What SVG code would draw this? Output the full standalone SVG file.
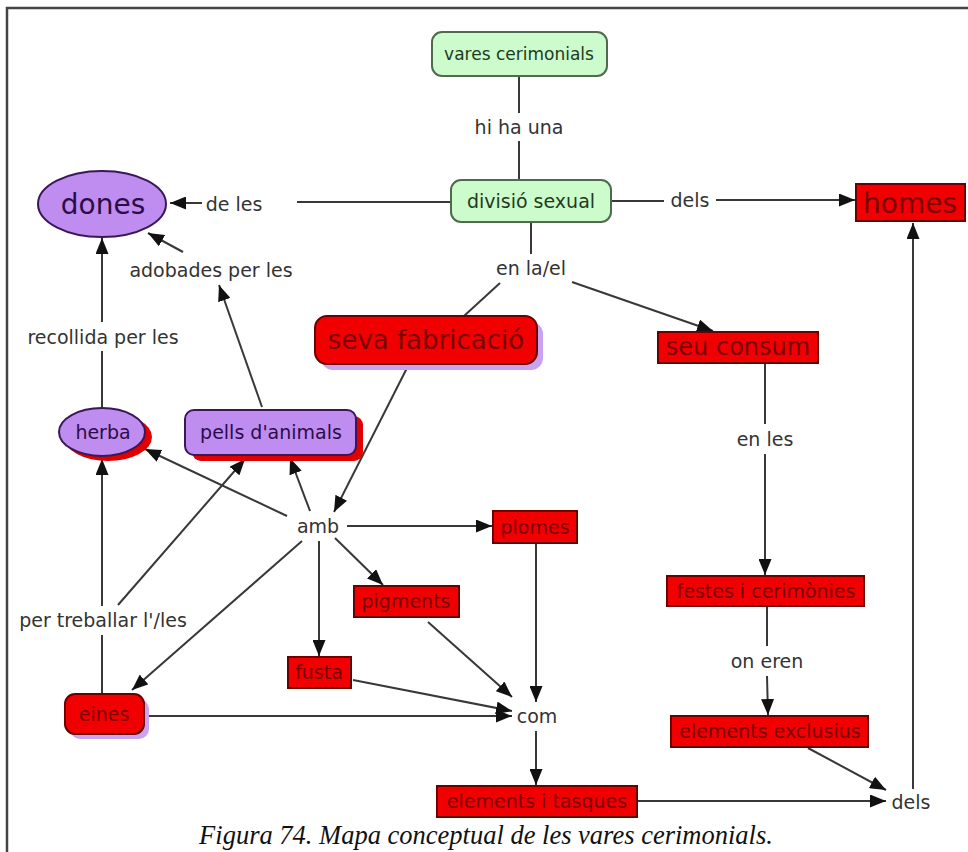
<svg xmlns="http://www.w3.org/2000/svg" width="968" height="852" viewBox="0 0 968 852">
  <style>
    .lbl { font-family: "DejaVu Sans", Verdana, sans-serif; font-size: 19px; fill: #333; text-anchor: middle; dominant-baseline: central; }
    .green rect { fill: #ccfccc; stroke: #4f6a4f; stroke-width: 2; }
    .green text { font-family: "DejaVu Sans", Verdana, sans-serif; font-size: 18px; fill: #1f3a1f; text-anchor: middle; dominant-baseline: central; }
    .purple .shape { fill: #bf8df0; stroke: #3a1858; stroke-width: 2; }
    .purple text { font-family: "DejaVu Sans", Verdana, sans-serif; fill: #2c0c48; text-anchor: middle; dominant-baseline: central; }
    .red .shape { fill: #f00000; stroke: #6a0000; stroke-width: 2; }
    .red text { font-family: "DejaVu Sans", Verdana, sans-serif; fill: #7a0000; text-anchor: middle; dominant-baseline: central; font-size: 19px; }
    .shadow-red { fill: #e00000; }
    .shadow-purple { fill: #c9a2f2; }
    #connectors line { stroke: #383838; stroke-width: 2; fill: none; }
    .cap { font-family: "Liberation Serif", "Times New Roman", serif; font-style: italic; font-size: 26.5px; fill: #111; text-anchor: middle; }
  </style>
  <defs>
    <marker id="arr" viewBox="0 0 16 13" refX="16" refY="6.5" markerWidth="16" markerHeight="13" orient="auto" markerUnits="userSpaceOnUse">
      <path d="M0,0 L16,6.5 L0,13 z" fill="#111"/>
    </marker>
  </defs>

  <rect width="968" height="852" fill="#fff"/>
  <!-- page frame -->
  <path d="M7,852 V8 H968" fill="none" stroke="#444" stroke-width="2.5"/>

  <!-- connectors -->
  <g id="connectors">
    <line x1="519" y1="76" x2="519" y2="113"/>
    <line x1="519" y1="141" x2="519" y2="180"/>
    <line x1="451" y1="202" x2="297" y2="202"/>
    <line x1="202" y1="203" x2="170" y2="203" marker-end="url(#arr)"/>
    <line x1="611" y1="201" x2="664" y2="201"/>
    <line x1="716" y1="200" x2="855" y2="200" marker-end="url(#arr)"/>
    <line x1="531" y1="222" x2="531" y2="254"/>
    <line x1="500" y1="283" x2="464" y2="316"/>
    <line x1="572" y1="282" x2="713" y2="331" marker-end="url(#arr)"/>
    <line x1="408" y1="366" x2="334" y2="512" marker-end="url(#arr)"/>
    <line x1="765" y1="364" x2="765" y2="424"/>
    <line x1="765" y1="454" x2="765" y2="575" marker-end="url(#arr)"/>
    <line x1="767" y1="607" x2="767" y2="646"/>
    <line x1="767" y1="676" x2="768" y2="715" marker-end="url(#arr)"/>
    <line x1="808" y1="748" x2="886" y2="790" marker-end="url(#arr)"/>
    <line x1="638" y1="801" x2="886" y2="801" marker-end="url(#arr)"/>
    <line x1="913" y1="789" x2="913" y2="223" marker-end="url(#arr)"/>
    <line x1="347" y1="526" x2="492" y2="526" marker-end="url(#arr)"/>
    <line x1="536" y1="544" x2="536" y2="702" marker-end="url(#arr)"/>
    <line x1="335" y1="538" x2="383" y2="585" marker-end="url(#arr)"/>
    <line x1="319" y1="541" x2="319" y2="656" marker-end="url(#arr)"/>
    <line x1="302" y1="541" x2="132" y2="690" marker-end="url(#arr)"/>
    <line x1="287" y1="516" x2="145" y2="449" marker-end="url(#arr)"/>
    <line x1="310" y1="511" x2="290" y2="458" marker-end="url(#arr)"/>
    <line x1="428" y1="622" x2="512" y2="697" marker-end="url(#arr)"/>
    <line x1="353" y1="680" x2="512" y2="711" marker-end="url(#arr)"/>
    <line x1="146" y1="716" x2="512" y2="716" marker-end="url(#arr)"/>
    <line x1="536" y1="731" x2="536" y2="785" marker-end="url(#arr)"/>
    <line x1="102" y1="694" x2="102" y2="635"/>
    <line x1="102" y1="606" x2="102" y2="459" marker-end="url(#arr)"/>
    <line x1="118" y1="605" x2="245" y2="459" marker-end="url(#arr)"/>
    <line x1="102" y1="408" x2="102" y2="351"/>
    <line x1="102" y1="322" x2="102" y2="238" marker-end="url(#arr)"/>
    <line x1="262" y1="407" x2="219" y2="285" marker-end="url(#arr)"/>
    <line x1="183" y1="252" x2="148" y2="233" marker-end="url(#arr)"/>
  </g>

  <!-- linking phrases -->
  <g id="labels">
    <text class="lbl" x="519" y="127">hi ha una</text>
    <text class="lbl" x="234" y="204">de les</text>
    <text class="lbl" x="690" y="200">dels</text>
    <text class="lbl" x="531" y="268">en la/el</text>
    <text class="lbl" x="211" y="270">adobades per les</text>
    <text class="lbl" x="103" y="337">recollida per les</text>
    <text class="lbl" x="765" y="439">en les</text>
    <text class="lbl" x="318" y="526">amb</text>
    <text class="lbl" x="103" y="620">per treballar l'/les</text>
    <text class="lbl" x="767" y="661">on eren</text>
    <text class="lbl" x="537" y="716">com</text>
    <text class="lbl" x="911" y="802">dels</text>
  </g>

  <!-- concepts -->
  <g id="vares-cerimonials" class="green">
    <rect x="432" y="32" width="175" height="44" rx="10"/>
    <text x="519" y="54" style="font-size:17px">vares cerimonials</text>
  </g>
  <g id="divisio-sexual" class="green">
    <rect x="451" y="180" width="160" height="42" rx="10"/>
    <text x="531" y="201" style="font-size:19px">divisió sexual</text>
  </g>
  <g id="homes" class="red">
    <rect class="shape" x="856" y="184" width="109" height="37"/>
    <text x="910" y="203" style="font-size:28px">homes</text>
  </g>
  <g id="dones" class="purple">
    <ellipse class="shape" cx="102" cy="204" rx="64" ry="33"/>
    <text x="103" y="204" style="font-size:28px">dones</text>
  </g>
  <g id="seva-fabricacio" class="red">
    <rect class="shadow-purple" x="321" y="322" width="222" height="48" rx="12"/>
    <rect class="shape" x="315" y="316" width="222" height="48" rx="12"/>
    <text x="426" y="340" style="font-size:26px">seva fabricació</text>
  </g>
  <g id="seu-consum" class="red">
    <rect class="shape" x="658" y="332" width="160" height="31"/>
    <text x="738" y="347" style="font-size:24px">seu consum</text>
  </g>
  <g id="herba" class="purple">
    <ellipse class="shadow-red" cx="108" cy="437" rx="44" ry="24"/>
    <ellipse class="shape" cx="102" cy="432" rx="43" ry="24"/>
    <text x="103" y="432" style="font-size:19px">herba</text>
  </g>
  <g id="pells-animals" class="purple">
    <rect class="shadow-red" x="192" y="416" width="171" height="45" rx="9"/>
    <rect class="shape" x="185" y="410" width="171" height="45" rx="9"/>
    <text x="271" y="432" style="font-size:19px">pells d'animals</text>
  </g>
  <g id="plomes" class="red">
    <rect class="shape" x="493" y="511" width="84" height="32"/>
    <text x="535" y="527">plomes</text>
  </g>
  <g id="pigments" class="red">
    <rect class="shape" x="354" y="586" width="105" height="31"/>
    <text x="406" y="601">pigments</text>
  </g>
  <g id="fusta" class="red">
    <rect class="shape" x="288" y="657" width="63" height="31"/>
    <text x="319" y="672">fusta</text>
  </g>
  <g id="eines" class="red">
    <rect class="shadow-purple" x="70" y="699" width="79" height="40" rx="10"/>
    <rect class="shape" x="65" y="694" width="79" height="40" rx="10"/>
    <text x="104" y="714">eines</text>
  </g>
  <g id="festes-cerimonies" class="red">
    <rect class="shape" x="667" y="576" width="197" height="30"/>
    <text x="766" y="591">festes i cerimònies</text>
  </g>
  <g id="elements-exclusius" class="red">
    <rect class="shape" x="671" y="716" width="197" height="31"/>
    <text x="770" y="731">elements exclusius</text>
  </g>
  <g id="elements-tasques" class="red">
    <rect class="shape" x="437" y="786" width="200" height="31"/>
    <text x="537" y="801">elements i tasques</text>
  </g>

  <text class="cap" x="486" y="844">Figura 74. Mapa conceptual de les vares cerimonials.</text>
</svg>
